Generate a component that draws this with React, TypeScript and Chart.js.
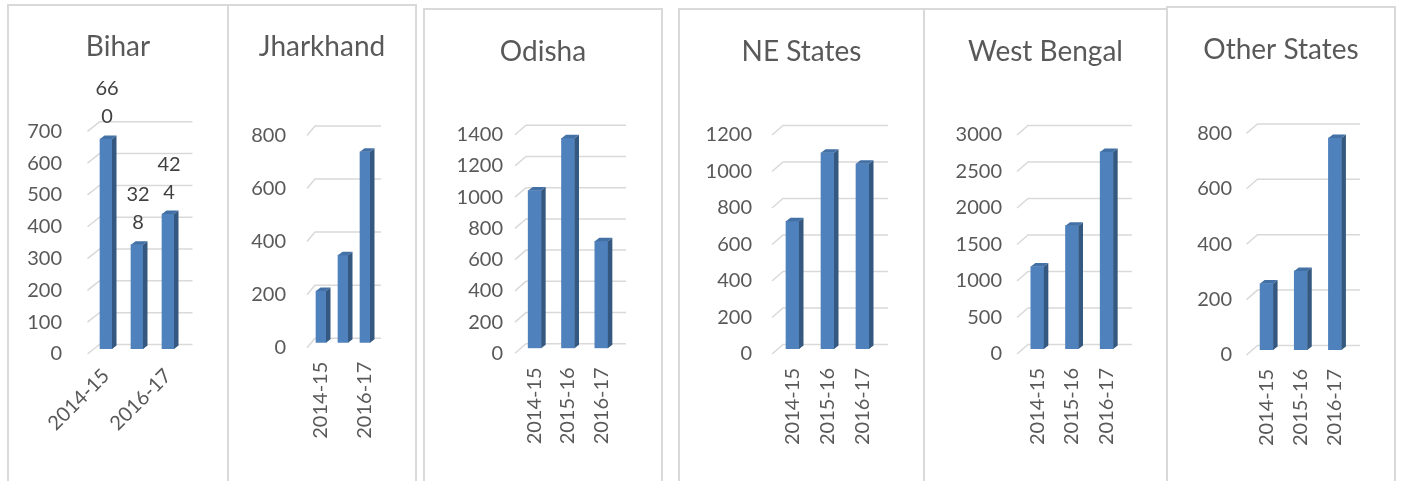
import React, { useEffect, useRef } from 'react';
import { Chart, registerables } from 'chart.js';

Chart.register(...registerables);

// ---------- data ----------
const categories = ['2014-15', '2015-16', '2016-17'];
const panelTitles = ['Bihar', 'Jharkhand', 'Odisha', 'NE States', 'West Bengal', 'Other States'];
const biharValues = [660, 328, 424];
const jharkhandValues = [195, 330, 720];
const odishaValues = [1010, 1345, 685];
const neStatesValues = [700, 1075, 1015];
const westBengalValues = [1130, 1690, 2700];
const otherStatesValues = [240, 285, 765];
const yAxisMax = [700, 800, 1400, 1200, 3000, 800];
const yAxisStep = [100, 200, 200, 200, 500, 200];

const panelValues = [biharValues, jharkhandValues, odishaValues, neStatesValues, westBengalValues, otherStatesValues];

// ---------- layout / style (page coordinates) ----------
const WIN_H = 481;
const panelBoxes = [
  { left: 7, top: 4, width: 222 },
  { left: 227, top: 4, width: 190 },
  { left: 423, top: 8, width: 240 },
  { left: 678, top: 8, width: 247 },
  { left: 923, top: 8, width: 245 },
  { left: 1166, top: 6, width: 230 },
];
const plotAreas = [
  { L: 90.5, R: 183.5, T: 126.3, B: 349, labelRight: 62, titleY: 47, rot: 45, skipOdd: true, depth: 9, barW: 12, xPad: 15, dataLabels: true },
  { L: 310, R: 376, T: 130.5, B: 342.7, labelRight: 286, titleY: 47, rot: 90, skipOdd: true, depth: 5, barW: 10, xPad: 19, dataLabels: false },
  { L: 518, R: 618, T: 129.7, B: 348.3, labelRight: 503, titleY: 52, rot: 90, skipOdd: false, depth: 8, barW: 13, xPad: 19, dataLabels: false },
  { L: 775, R: 880, T: 130, B: 349, labelRight: 752, titleY: 52, rot: 90, skipOdd: false, depth: 8, barW: 13, xPad: 19, dataLabels: false },
  { L: 1020, R: 1124, T: 130, B: 349, labelRight: 1002, titleY: 52, rot: 90, skipOdd: false, depth: 8, barW: 13, xPad: 19, dataLabels: false },
  { L: 1249.5, R: 1352, T: 128.4, B: 350, labelRight: 1232, titleY: 50, rot: 90, skipOdd: false, depth: 8, barW: 13, xPad: 19, dataLabels: false },
];

const FONT = 'Lato, "Open Sans", sans-serif';
const TEXT = '#595959';
const GRID = '#d9d9d9';
const BAR_FRONT = '#4f81bd';
const BAR_SIDE = '#34587f';
const BAR_TOP = '#4371a6';
const TITLE_SIZE = 28;
const TICK_SIZE = 20;

const panelTitle = {
  id: 'panelTitle',
  afterDraw(chart: any, _args: any, opts: any) {
    const { ctx, width } = chart;
    ctx.save();
    ctx.fillStyle = TEXT;
    ctx.font = `${TITLE_SIZE}px ${FONT}`;
    ctx.textAlign = 'center';
    ctx.textBaseline = 'middle';
    ctx.fillText(opts.text, width / 2, opts.y);
    ctx.restore();
  },
};

const grid3d = {
  id: 'grid3d',
  beforeDatasetsDraw(chart: any, _args: any, opts: any) {
    const { ctx, chartArea } = chart;
    const ys = chart.scales.y;
    ctx.save();
    ctx.strokeStyle = GRID;
    ctx.lineWidth = 1.5;
    ys.ticks.forEach((t: any) => {
      const py = ys.getPixelForValue(t.value);
      ctx.beginPath();
      ctx.moveTo(chartArea.left - 3, py + 5);
      ctx.lineTo(chartArea.left + opts.depth, py - 4.5);
      ctx.lineTo(chartArea.right + opts.depth, py - 4.5);
      ctx.stroke();
    });
    ctx.restore();
  },
};

const bar3d = {
  id: 'bar3d',
  afterDatasetsDraw(chart: any) {
    const { ctx } = chart;
    const dx = 4.5;
    const dy = 3.5;
    ctx.save();
    chart.getDatasetMeta(0).data.forEach((bar: any) => {
      const { x, y, base, width } = bar.getProps(['x', 'y', 'base', 'width'], true);
      const l = x - width / 2;
      const r = x + width / 2;
      ctx.fillStyle = BAR_SIDE;
      ctx.beginPath();
      ctx.moveTo(r, y);
      ctx.lineTo(r + dx, y - dy);
      ctx.lineTo(r + dx, base - dy);
      ctx.lineTo(r, base);
      ctx.closePath();
      ctx.fill();
      ctx.fillStyle = BAR_TOP;
      ctx.beginPath();
      ctx.moveTo(l, y);
      ctx.lineTo(l + dx, y - dy);
      ctx.lineTo(r + dx, y - dy);
      ctx.lineTo(r, y);
      ctx.closePath();
      ctx.fill();
    });
    ctx.restore();
  },
};

const wrapLabels = {
  id: 'wrapLabels',
  afterDatasetsDraw(chart: any, _args: any, opts: any) {
    if (!opts || !opts.display) return;
    const { ctx } = chart;
    const values = chart.data.datasets[0].data as number[];
    ctx.save();
    ctx.fillStyle = '#404040';
    ctx.font = `${TICK_SIZE}px ${FONT}`;
    ctx.textAlign = 'center';
    ctx.textBaseline = 'middle';
    chart.getDatasetMeta(0).data.forEach((bar: any, i: number) => {
      const s = String(values[i]);
      const lines: string[] = [];
      for (let k = 0; k < s.length; k += 2) lines.push(s.slice(k, k + 2));
      const { x, y } = bar.getProps(['x', 'y'], true);
      const lh = 28;
      lines.forEach((ln, j) => {
        const fromBottom = lines.length - 1 - j;
        ctx.fillText(ln, x + 1, y - 22 - fromBottom * lh);
      });
    });
    ctx.restore();
  },
};

function Panel({ index }: { index: number }) {
  const ref = useRef<HTMLCanvasElement>(null);
  const box = panelBoxes[index];
  const pa = plotAreas[index];
  const cx = box.left + 2;
  const cy = box.top + 2;
  const cw = box.width - 4;
  const ch = WIN_H - cy;

  useEffect(() => {
    if (!ref.current) return;
    const L = pa.L - cx;
    const R = pa.R - cx;
    const T = pa.T - cy;
    const B = pa.B - cy;

    const chart = new Chart(ref.current, {
      type: 'bar',
      data: {
        labels: categories,
        datasets: [
          {
            data: panelValues[index],
            backgroundColor: BAR_FRONT,
            borderWidth: 0,
            barThickness: pa.barW,
          },
        ],
      },
      plugins: [grid3d, bar3d, wrapLabels, panelTitle],
      options: {
        responsive: false,
        animation: false,
        events: [],
        layout: { padding: { left: 0, top: T, right: cw - R, bottom: 0 } },
        plugins: {
          legend: { display: false },
          tooltip: { enabled: false },
          title: { display: false },
          panelTitle: { text: panelTitles[index], y: pa.titleY - cy },
          grid3d: { depth: pa.depth },
          wrapLabels: { display: pa.dataLabels },
        } as any,
        scales: {
          x: {
            offset: true,
            grid: { display: false, drawTicks: false },
            border: { display: false },
            ticks: {
              autoSkip: false,
              minRotation: pa.rot,
              maxRotation: pa.rot,
              padding: pa.xPad,
              color: TEXT,
              font: { family: FONT, size: TICK_SIZE },
              callback: function (this: any, _v: any, i: number) {
                if (pa.skipOdd && i % 2 === 1) return '';
                return categories[i];
              },
            },
            afterFit: (s: any) => {
              s.height = ch - B;
            },
          },
          y: {
            min: 0,
            max: yAxisMax[index],
            grid: { display: false, drawTicks: false },
            border: { display: false },
            ticks: {
              stepSize: yAxisStep[index],
              padding: pa.L - pa.labelRight,
              labelOffset: 5,
              color: TEXT,
              font: { family: FONT, size: TICK_SIZE },
              callback: (v: any) => String(v),
            },
            afterFit: (s: any) => {
              s.width = L;
            },
          },
        },
      },
    });
    return () => chart.destroy();
  }, [index]);

  return (
    <>
      <div
        style={{
          position: 'absolute',
          left: box.left,
          top: box.top,
          width: box.width,
          height: WIN_H + 20 - box.top,
          border: `2px solid ${GRID}`,
          boxSizing: 'border-box',
          background: 'transparent',
        }}
      />
      <canvas
        ref={ref}
        width={cw}
        height={ch}
        style={{ position: 'absolute', left: cx, top: cy, width: cw, height: ch }}
      />
    </>
  );
}

export default function App() {
  return (
    <div style={{ position: 'absolute', left: 0, top: 0, width: 1403, height: WIN_H, overflow: 'hidden', background: '#fff' }}>
      {panelTitles.map((_, i) => (
        <Panel key={i} index={i} />
      ))}
    </div>
  );
}
